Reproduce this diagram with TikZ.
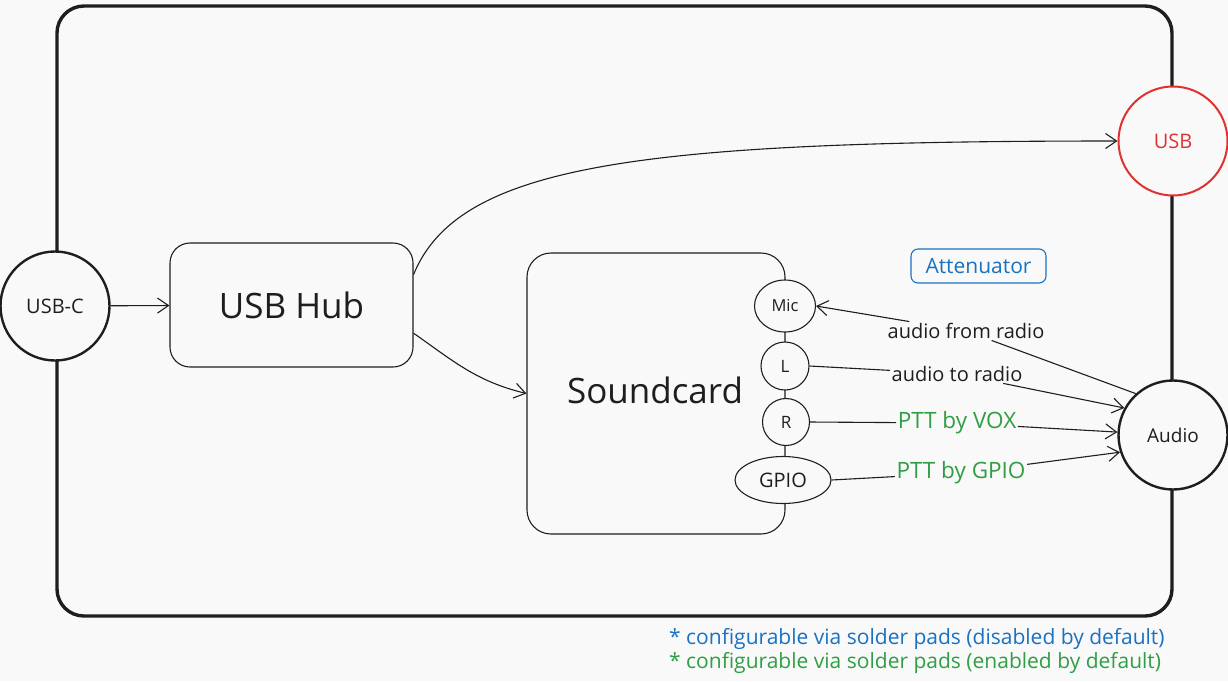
\documentclass[tikz,border=0pt]{standalone}
\usepackage{fontspec}
\setmainfont{Open Sans}
\usetikzlibrary{arrows.meta,calc,shapes.geometric}
\definecolor{bg}{RGB}{249,249,249}
\definecolor{ink}{RGB}{30,30,30}
\definecolor{exblue}{RGB}{25,113,194}
\definecolor{exgreen}{RGB}{47,158,68}
\definecolor{exred}{RGB}{224,49,49}
\tikzset{
  frame/.style={draw=ink,line width=3.4pt,rounded corners=27pt},
  bigport/.style={circle,draw=ink,line width=2.4pt,fill=bg,minimum size=109pt,inner sep=0pt,font=\fontsize{19}{22}\selectfont,text=ink},
  block/.style={rectangle,rounded corners=20pt,draw=ink,line width=1.1pt,fill=bg,inner sep=0pt,text=ink,font=\fontsize{35}{40}\selectfont},
  port/.style={ellipse,draw=ink,line width=1.1pt,fill=bg,inner sep=0pt,text=ink},
  lbl/.style={fill=bg,inner sep=1.5pt,font=\fontsize{20}{24}\selectfont,text=ink},
  glbl/.style={lbl,text=exgreen,font=\fontsize{22.5}{26}\selectfont},
  wire/.style={draw=ink,line width=1.1pt},
  arr/.style={wire,-{Straight Barb[length=11pt,width=15pt,line width=1.1pt]}},
  note/.style={anchor=west,inner sep=0pt,font=\fontsize{21}{24}\selectfont},
}
\begin{document}
\begin{tikzpicture}[x=1pt,y=-1pt]
\useasboundingbox[fill=bg] (0,0) rectangle (1228,681);
% outer frame
\draw[frame] (57,6) rectangle (1172,616);
% big ports on the frame
\node[bigport,font=\fontsize{20}{24}\selectfont] (usbc) at (55,306) {USB-C};
\node[bigport,draw=exred,line width=2pt,text=exred,font=\fontsize{20}{24}\selectfont] (usb) at (1173,141) {USB};
\node[bigport] (audio) at (1173,435) {Audio};
% blocks
\node[block,minimum width=243pt,minimum height=124pt] (hub) at (291.5,305) {USB Hub};
\node[block,minimum width=258pt,minimum height=281pt,rounded corners=24pt] (sc) at (656,393.5) {};
\node[text=ink,font=\fontsize{35}{40}\selectfont] (sctext) at (655,390) {Soundcard};
% soundcard ports
\node[port,minimum width=61pt,minimum height=52pt,font=\fontsize{16.5}{19}\selectfont] (mic) at (785,306) {Mic};
\node[port,minimum width=48pt,minimum height=48pt,font=\fontsize{17}{20}\selectfont] (pl) at (785,366) {L};
\node[port,minimum width=47pt,minimum height=47pt,font=\fontsize{17}{20}\selectfont] (pr) at (786,422) {R};
\node[port,minimum width=96pt,minimum height=47pt,font=\fontsize{20}{23}\selectfont] (gpio) at (783,480) {GPIO};
% attenuator
\node[draw=exblue,line width=1.1pt,rounded corners=7pt,minimum width=135pt,minimum height=34pt,inner sep=0pt,text=exblue,font=\fontsize{21}{24}\selectfont] (att) at (978.5,266) {Attenuator};
% connectors
\draw[arr] (usbc) -- (hub);
\draw[arr] (hub.14) .. controls +(45,-110) and +(-480,0) .. (usb.west);
\draw[arr] (hub.-13) .. controls +(40,28) and +(-50,-12) .. (sc.west);
% labelled wires
\node[lbl] (l1) at (966,331) {audio from radio};
\node[lbl] (l2) at (957,374) {audio to radio};
\node[glbl] (l3) at (957,423) {PTT by VOX};
\node[glbl] (l4) at (961,473) {PTT by GPIO};
\draw[wire] (audio.132) -- (l1);
\draw[arr] (l1) -- (mic.east);
\draw[wire] (pl.east) -- (l2);
\draw[arr] (l2) -- (audio.151);
\draw[wire] (pr.east) -- (l3);
\draw[arr] (l3) -- (audio.177);
\draw[wire] (gpio.east) -- (l4);
\draw[arr] (l4) -- (audio.198);
% footnotes
\node[note,text=exblue] (n1) at (669,639) {* configurable via solder pads (disabled by default)};
\node[note,text=exgreen] (n2) at (669,663) {* configurable via solder pads (enabled by default)};
\end{tikzpicture}
\end{document}
